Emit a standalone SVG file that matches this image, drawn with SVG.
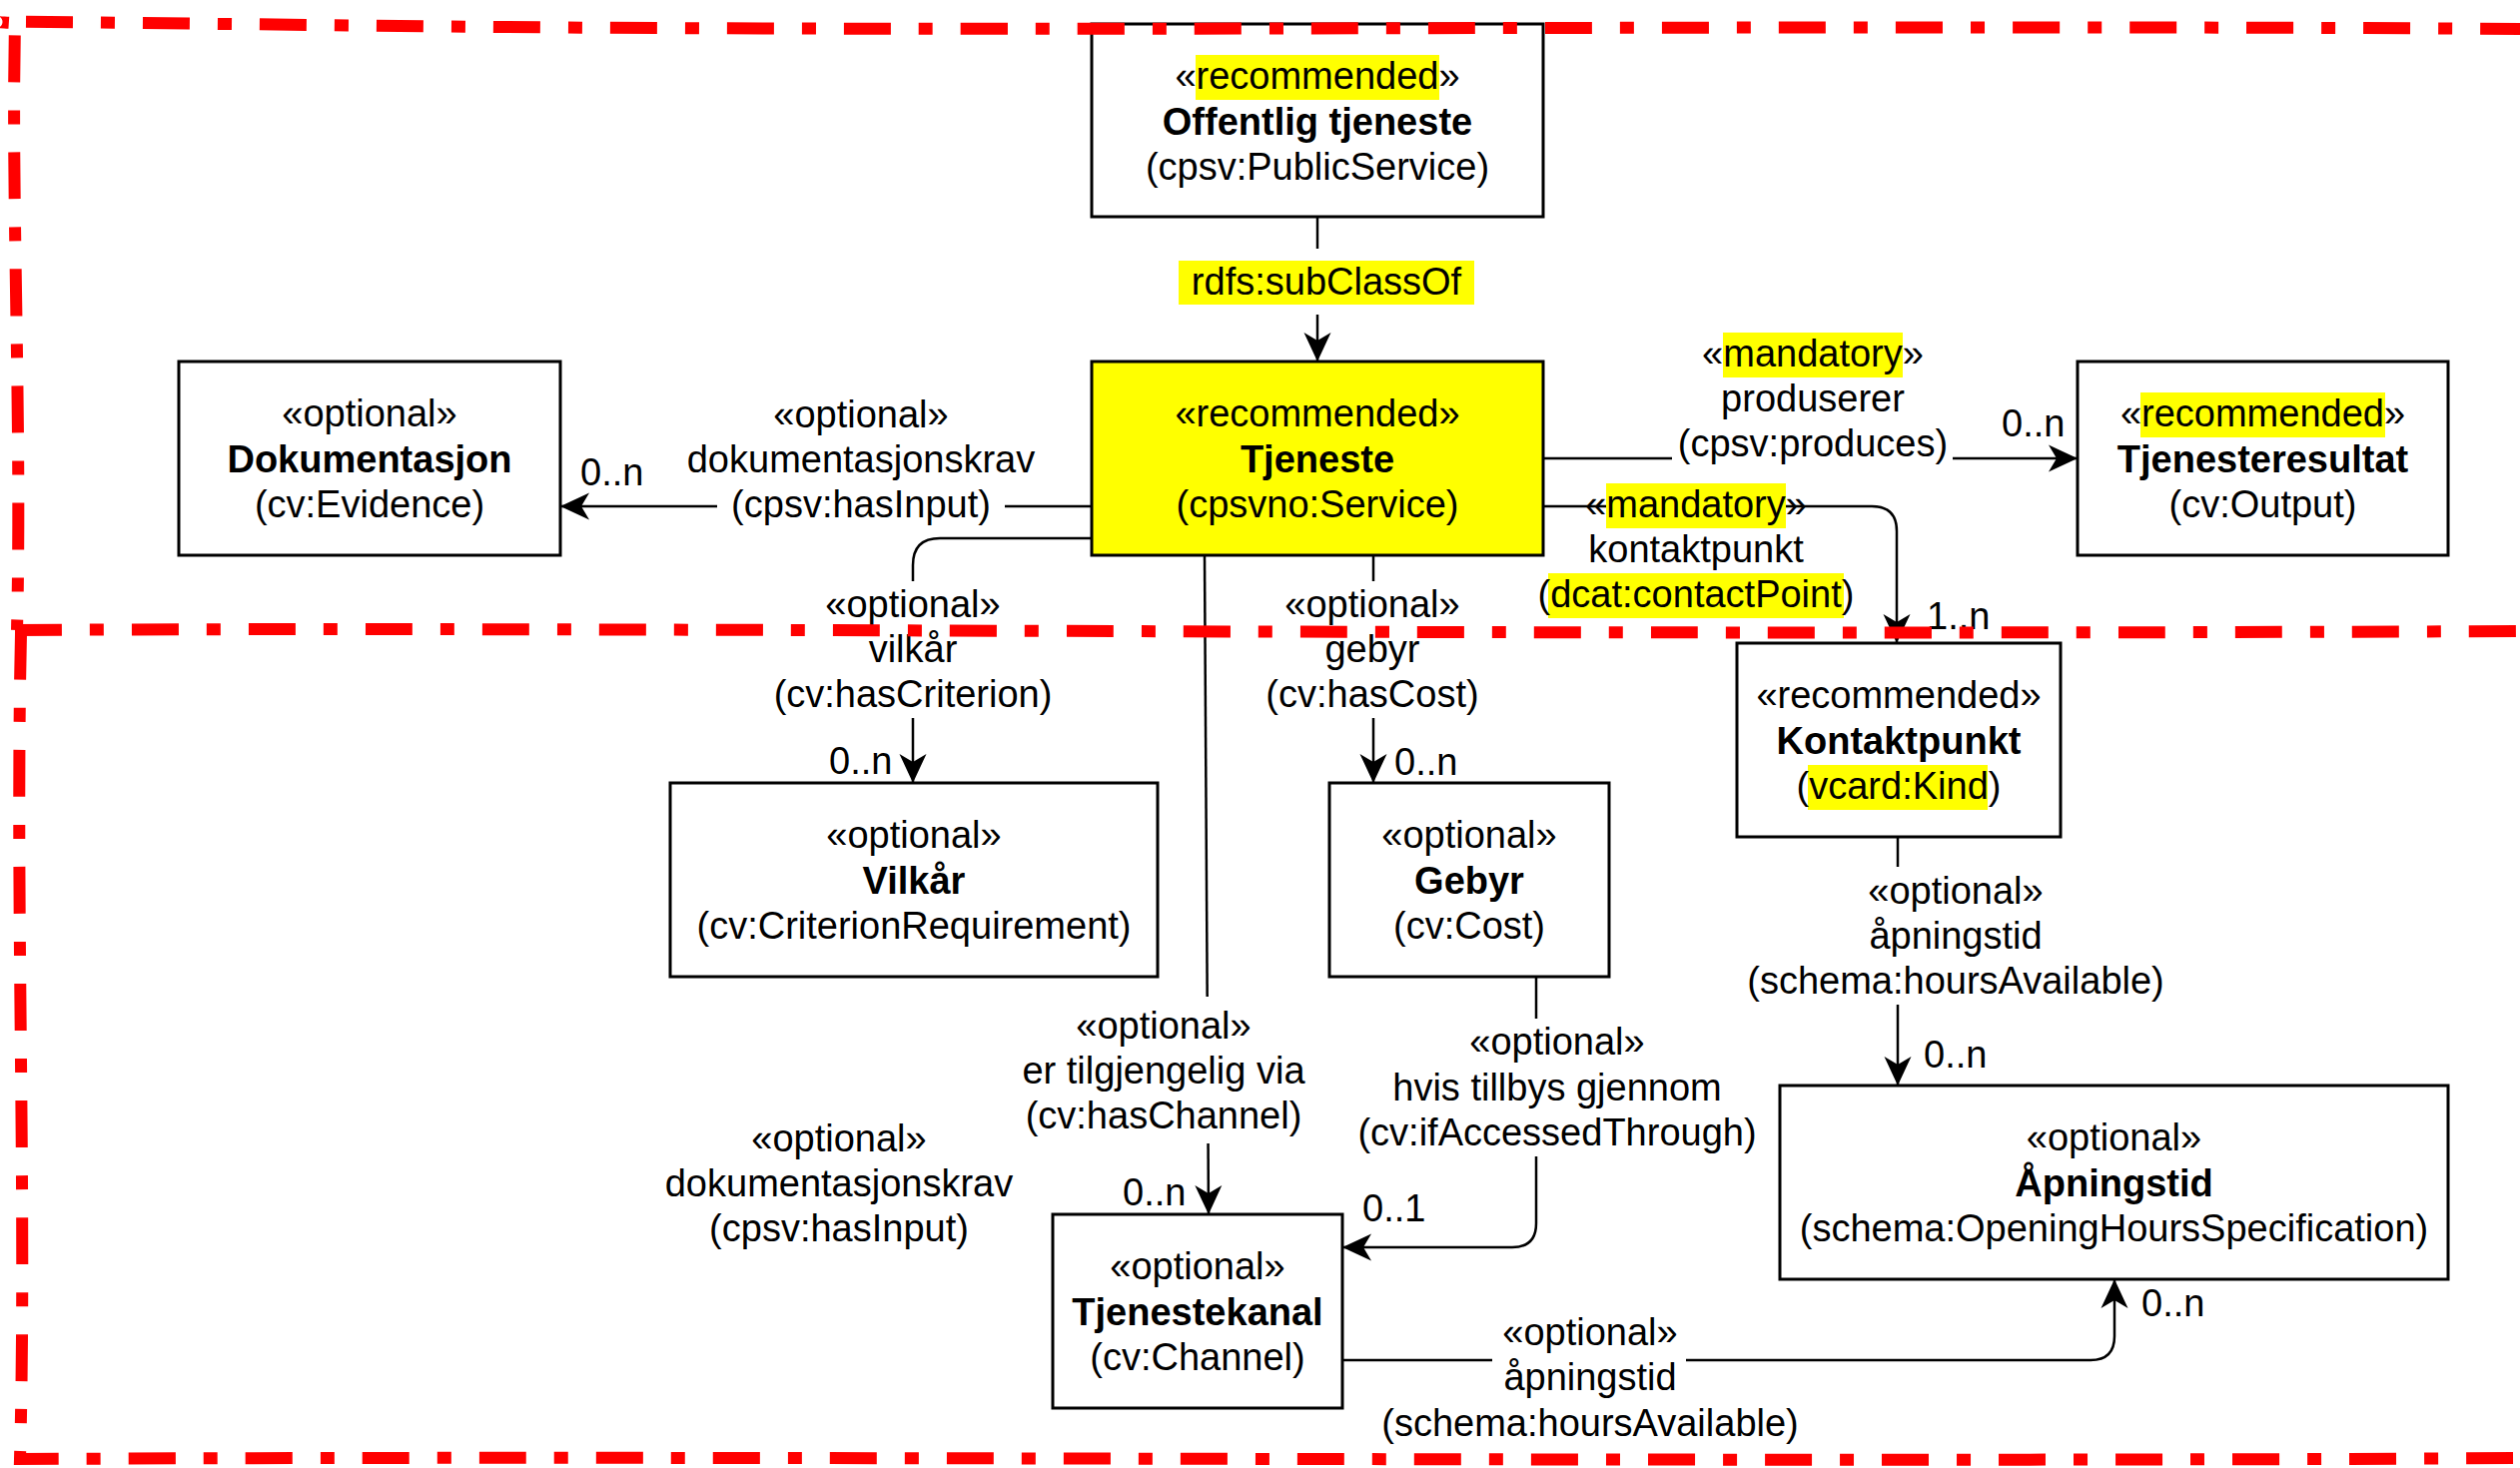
<svg xmlns="http://www.w3.org/2000/svg" width="2523" height="1470" viewBox="0 0 2523 1470">
<style>
.box{fill:#fff;stroke:#000;stroke-width:3}
.ybox{fill:#ffff00;stroke:#000;stroke-width:3}
.t{font-family:"Liberation Sans",Arial,Helvetica,sans-serif;font-size:38px;fill:#000;text-anchor:middle}
.s{font-family:"Liberation Sans",Arial,Helvetica,sans-serif;font-size:38px;fill:#000;text-anchor:start}
.b{font-weight:bold}
.hl{fill:#ffff00}
.bg{fill:#fff}
.edge{fill:none;stroke:#000;stroke-width:2.5}
.region{fill:none;stroke:#ff0000;stroke-width:12;stroke-dasharray:47 28 14 28}
</style>
<defs>
<marker id="arrow" viewBox="-30 -15 31 30" refX="0" refY="0" markerWidth="31" markerHeight="30" markerUnits="userSpaceOnUse" orient="auto">
<path d="M0,0 L-29,-13.5 L-21,0 L-29,13.5 Z" fill="#000"/>
</marker>
</defs>
<rect width="2523" height="1470" fill="#fff"/>

<g id="connectors">
<!-- subClassOf -->
<path class="edge" d="M1319,217 V362" marker-end="url(#arrow)"/>
<rect class="bg" x="1180" y="249" width="296" height="66"/>
<rect class="hl" x="1180" y="261" width="296" height="44"/>
<text class="t" x="1328" y="295">rdfs:subClassOf</text>

<!-- hasInput -->
<path class="edge" d="M1092,507 H561" marker-end="url(#arrow)"/>
<rect class="bg" x="718" y="484" width="288" height="44"/>
<text class="t" x="862" y="428">«optional»</text>
<text class="t" x="862" y="473">dokumentasjonskrav</text>
<text class="t" x="862" y="518">(cpsv:hasInput)</text>
<text class="s" x="581" y="486">0..n</text>

<!-- hasCriterion -->
<path class="edge" d="M1092,539 H941 Q914,539 914,566 V784" marker-end="url(#arrow)"/>
<rect class="bg" x="776" y="582" width="276" height="137"/>
<text class="t" x="914" y="618">«optional»</text>
<text class="t" x="914" y="663">vilkår</text>
<text class="t" x="914" y="708">(cv:hasCriterion)</text>
<text class="s" x="830" y="775">0..n</text>

<!-- hasChannel -->
<path class="edge" d="M1206,556 L1210,1216" marker-end="url(#arrow)"/>
<rect class="bg" x="1020" y="998" width="290" height="147"/>
<text class="t" x="1165" y="1040">«optional»</text>
<text class="t" x="1165" y="1085">er tilgjengelig via</text>
<text class="t" x="1165" y="1130">(cv:hasChannel)</text>
<text class="s" x="1124" y="1207">0..n</text>

<!-- hasCost -->
<path class="edge" d="M1375,556 V784" marker-end="url(#arrow)"/>
<rect class="bg" x="1262" y="582" width="226" height="137"/>
<text class="t" x="1374" y="618">«optional»</text>
<text class="t" x="1374" y="663">gebyr</text>
<text class="t" x="1374" y="708">(cv:hasCost)</text>
<text class="s" x="1396" y="776">0..n</text>

<!-- produces -->
<path class="edge" d="M1545,459 H2080" marker-end="url(#arrow)"/>
<rect class="bg" x="1674" y="430" width="281" height="42"/>
<rect class="hl" x="1725" y="333" width="180" height="45"/>
<text class="t" x="1815" y="367">«mandatory»</text>
<text class="t" x="1815" y="412">produserer</text>
<text class="t" x="1815" y="457">(cpsv:produces)</text>
<text class="s" x="2004" y="437">0..n</text>

<!-- contactPoint -->
<path class="edge" d="M1545,507 H1874 Q1899,507 1899,532 V644" marker-end="url(#arrow)"/>
<rect class="hl" x="1608" y="484" width="180" height="45"/>
<rect class="hl" x="1550" y="574" width="296" height="45"/>
<text class="t" x="1698" y="518">«mandatory»</text>
<text class="t" x="1698" y="563">kontaktpunkt</text>
<text class="t" x="1698" y="608">(dcat:contactPoint)</text>
<text class="s" x="1929" y="630">1..n</text>

<!-- Kontaktpunkt hoursAvailable -->
<path class="edge" d="M1900,838 V1087" marker-end="url(#arrow)"/>
<rect class="bg" x="1749" y="868" width="418" height="138"/>
<text class="t" x="1958" y="905">«optional»</text>
<text class="t" x="1958" y="950">åpningstid</text>
<text class="t" x="1958" y="995">(schema:hoursAvailable)</text>
<text class="s" x="1926" y="1069">0..n</text>

<!-- ifAccessedThrough -->
<path class="edge" d="M1538,978 V1225 Q1538,1249 1514,1249 H1344" marker-end="url(#arrow)"/>
<rect class="bg" x="1360" y="1020" width="400" height="138"/>
<text class="t" x="1559" y="1056">«optional»</text>
<text class="t" x="1559" y="1102">hvis tillbys gjennom</text>
<text class="t" x="1559" y="1147">(cv:ifAccessedThrough)</text>
<text class="s" x="1364" y="1223">0..1</text>

<!-- Tjenestekanal hoursAvailable -->
<path class="edge" d="M1344,1362 H2093 Q2117,1362 2117,1338 V1281" marker-end="url(#arrow)"/>
<rect class="bg" x="1494" y="1340" width="194" height="44"/>
<text class="t" x="1592" y="1347">«optional»</text>
<text class="t" x="1592" y="1392">åpningstid</text>
<text class="t" x="1592" y="1438">(schema:hoursAvailable)</text>
<text class="s" x="2144" y="1318">0..n</text>

<!-- free label -->
<text class="t" x="840" y="1153">«optional»</text>
<text class="t" x="840" y="1198">dokumentasjonskrav</text>
<text class="t" x="840" y="1243">(cpsv:hasInput)</text>
</g>

<g id="node-offentlig-tjeneste">
<rect class="box" x="1093" y="24" width="452" height="193"/>
<rect class="hl" x="1197" y="55" width="244" height="45"/>
<text class="t" x="1319" y="89">«recommended»</text>
<text class="t b" x="1319" y="135">Offentlig tjeneste</text>
<text class="t" x="1319" y="180">(cpsv:PublicService)</text>
</g>

<g id="node-tjeneste">
<rect class="ybox" x="1093" y="362" width="452" height="194"/>
<text class="t" x="1319" y="427">«recommended»</text>
<text class="t b" x="1319" y="473">Tjeneste</text>
<text class="t" x="1319" y="518">(cpsvno:Service)</text>
</g>

<g id="node-dokumentasjon">
<rect class="box" x="179" y="362" width="382" height="194"/>
<text class="t" x="370" y="427">«optional»</text>
<text class="t b" x="370" y="473">Dokumentasjon</text>
<text class="t" x="370" y="518">(cv:Evidence)</text>
</g>

<g id="node-tjenesteresultat">
<rect class="box" x="2080" y="362" width="371" height="194"/>
<rect class="hl" x="2143" y="393" width="245" height="45"/>
<text class="t" x="2265.5" y="427">«recommended»</text>
<text class="t b" x="2265.5" y="473">Tjenesteresultat</text>
<text class="t" x="2265.5" y="518">(cv:Output)</text>
</g>

<g id="node-kontaktpunkt">
<rect class="box" x="1739" y="644" width="324" height="194"/>
<rect class="hl" x="1810" y="766" width="180" height="45"/>
<text class="t" x="1901" y="709">«recommended»</text>
<text class="t b" x="1901" y="755">Kontaktpunkt</text>
<text class="t" x="1901" y="800">(vcard:Kind)</text>
</g>

<g id="node-vilkar">
<rect class="box" x="671" y="784" width="488" height="194"/>
<text class="t" x="915" y="849">«optional»</text>
<text class="t b" x="915" y="895">Vilkår</text>
<text class="t" x="915" y="940">(cv:CriterionRequirement)</text>
</g>

<g id="node-gebyr">
<rect class="box" x="1331" y="784" width="280" height="194"/>
<text class="t" x="1471" y="849">«optional»</text>
<text class="t b" x="1471" y="895">Gebyr</text>
<text class="t" x="1471" y="940">(cv:Cost)</text>
</g>

<g id="node-apningstid">
<rect class="box" x="1782" y="1087" width="669" height="194"/>
<text class="t" x="2116.5" y="1152">«optional»</text>
<text class="t b" x="2116.5" y="1198">Åpningstid</text>
<text class="t" x="2116.5" y="1243">(schema:OpeningHoursSpecification)</text>
</g>

<g id="node-tjenestekanal">
<rect class="box" x="1054" y="1216" width="290" height="194"/>
<text class="t" x="1199" y="1281">«optional»</text>
<text class="t b" x="1199" y="1327">Tjenestekanal</text>
<text class="t" x="1199" y="1372">(cv:Channel)</text>
</g>

<g id="regions">
<path class="region" d="M2530,29 C1800,24 1000,33 400,26 S60,22 15,25 C11,200 22,420 17,631"/>
<path class="region" d="M15,631 C600,627 1400,637 2530,632"/>
<path class="region" d="M21,634 C15,900 27,1200 20,1461 C800,1457 1700,1465 2530,1460"/>
</g>
</svg>
